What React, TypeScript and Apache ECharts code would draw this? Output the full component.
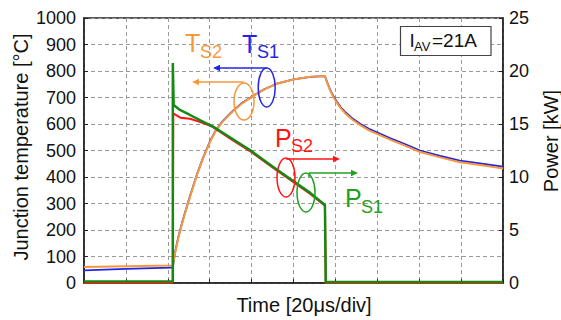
import React, { useEffect, useRef } from "react";
import * as echarts from "echarts";

// Junction temperature Ts2 (orange) and Ts1 (blue), time in divisions
const timeTs2 = [0, 1, 2.1, 2.12, 2.17, 2.25, 2.35, 2.5, 2.7, 2.84, 3.0, 3.13, 3.29, 3.5, 3.75, 4.03, 4.3, 4.6, 5.0, 5.4, 5.75, 5.81, 5.87, 5.95, 6.04, 6.13, 6.23, 6.4, 6.59, 6.8, 7.06, 7.3, 7.54, 7.8, 8.02, 8.5, 8.97, 9.5, 10];
const valsTs2 = [60, 63, 66, 66, 110, 170, 230, 310, 410, 470, 530, 570, 605, 640, 675, 705, 730, 752, 768, 778, 781, 752, 728, 702, 679, 659, 641, 617, 596, 576, 558, 541, 526, 509, 494, 474, 456, 444, 432];
const timeTs1 = [0, 1, 2.1, 2.12, 2.17, 2.25, 2.35, 2.5, 2.7, 2.84, 3.0, 3.13, 3.29, 3.5, 3.75, 4.03, 4.3, 4.6, 5.0, 5.4, 5.75, 5.81, 5.87, 5.95, 6.04, 6.13, 6.23, 6.4, 6.59, 6.8, 7.06, 7.3, 7.54, 7.8, 8.02, 8.5, 8.97, 9.5, 10];
const valsTs1 = [48, 53, 58, 58, 113, 173, 233, 313, 412, 472, 532, 572, 607, 642, 677, 706, 731, 752, 768, 778, 781, 755, 731, 706, 683, 663, 646, 622, 601, 582, 564, 547, 532, 515, 500, 480, 462, 450, 439];

// Power Ps1 (green) and Ps2 (red), kW
const timePs1 = [0, 2.12, 2.12, 2.14, 2.2, 2.3, 2.53, 2.8, 3.08, 3.5, 3.96, 4.5, 5.0, 5.4, 5.75, 5.77, 6, 8, 10];
const valsPs1 = [0.15, 0.15, 20.75, 16.8, 16.6, 16.3, 15.85, 15.3, 14.75, 13.7, 12.55, 11.0, 9.6, 8.5, 7.36, 0.1, 0.1, 0.1, 0.1];
const timePs2 = [0, 2.12, 2.13, 2.3, 2.53, 2.76, 3.0, 3.08, 3.5, 3.96, 4.5, 5.0, 5.4, 5.75, 5.77, 10];
const valsPs2 = [0, 0, 16.0, 15.6, 15.5, 15.2, 14.85, 14.7, 13.6, 12.45, 10.9, 9.5, 8.4, 7.3, 0, 0];

const tempTicks = { min: 0, max: 1000, interval: 100 };
const powerTicks = { min: 0, max: 25, interval: 5 };
const timeTicks = { min: 0, max: 10, interval: 1 };

const FONT = "'Liberation Sans', Arial, sans-serif";
const ORANGE = "#F7993A";
const BLUE = "#2424E8";
const RED = "#FF1414";
const GREEN = "#148A14";
const GREEN_L = "#22A022";

const zip = (t: number[], v: number[]) => t.map((x, i) => [x, v[i]]);

export default function App() {
  const ref = useRef<HTMLDivElement>(null);
  useEffect(() => {
    document.body.style.margin = "0";
    const chart = echarts.init(ref.current!, undefined, { renderer: "svg" });
    const txt = (x: number, y: number, text: string, size: number, fill: string, extra: any = {}, rotation = 0) => ({
      type: "text",
      x,
      y,
      rotation,
      z: 100,
      style: { text, fontSize: size, fontFamily: FONT, fill, textAlign: "left", textVerticalAlign: "middle", ...extra },
    });
    const ell = (cx: number, cy: number, rx: number, ry: number, stroke: string) => ({
      type: "ellipse",
      z: 100,
      shape: { cx, cy, rx, ry },
      style: { fill: "none", stroke, lineWidth: 1.5 },
    });
    const line = (x1: number, y1: number, x2: number, y2: number, stroke: string) => ({
      type: "line",
      z: 100,
      shape: { x1, y1, x2, y2 },
      style: { stroke, lineWidth: 1.5 },
    });
    const head = (x: number, y: number, dir: number, fill: string) => ({
      type: "polygon",
      z: 100,
      shape: { points: [[x, y], [x - dir * 7, y - 3.2], [x - dir * 7, y + 3.2]] },
      style: { fill },
    });
    const axisLbl = { fontSize: 18, fontFamily: FONT, color: "#111", formatter: (v: number) => String(v) };
    const split = { show: true, lineStyle: { color: "#9a9a9a", width: 1, type: [4, 3] as any } };
    chart.setOption({
      animation: false,
      grid: { left: 84, top: 18, width: 419, height: 265, show: true, borderColor: "#222", borderWidth: 1.5, backgroundColor: "#fff" },
      xAxis: {
        type: "value",
        ...timeTicks,
        axisLabel: { show: false },
        axisLine: { lineStyle: { color: "#222", width: 1.5 } },
        axisTick: { show: true, inside: true, length: 4, lineStyle: { color: "#222" } },
        splitLine: split,
      },
      yAxis: [
        {
          type: "value",
          ...tempTicks,
          axisLabel: { ...axisLbl, margin: 8 },
          axisLine: { show: true, lineStyle: { color: "#222", width: 1.5 } },
          axisTick: { show: true, inside: true, length: 4, lineStyle: { color: "#222" } },
          splitLine: split,
        },
        {
          type: "value",
          ...powerTicks,
          position: "right",
          axisLabel: { ...axisLbl, margin: 6 },
          axisLine: { show: true, lineStyle: { color: "#222", width: 1.5 } },
          axisTick: { show: true, inside: true, length: 4, lineStyle: { color: "#222" } },
          splitLine: { show: false },
        },
      ],
      series: [
        { type: "line", name: "Ts1", data: zip(timeTs1, valsTs1), showSymbol: false, lineStyle: { color: BLUE, width: 1.8 }, yAxisIndex: 0 },
        { type: "line", name: "Ts2", data: zip(timeTs2, valsTs2), showSymbol: false, lineStyle: { color: ORANGE, width: 2 }, yAxisIndex: 0 },
        { type: "line", name: "Ps2", data: zip(timePs2, valsPs2), showSymbol: false, lineStyle: { color: RED, width: 2 }, yAxisIndex: 1 },
        { type: "line", name: "Ps1", data: zip(timePs1, valsPs1), showSymbol: false, lineStyle: { color: GREEN, width: 2.5 }, yAxisIndex: 1 },
      ],
      graphic: [
        // axis names
        txt(21, 147, "Junction temperature [°C]", 20, "#111", { textAlign: "center" }, Math.PI / 2),
        txt(551, 141, "Power [kW]", 20, "#111", { textAlign: "center" }, Math.PI / 2),
        txt(304, 305, "Time [20μs/div]", 20, "#111", { textAlign: "center" }),
        // annotations
        txt(185, 43, "T", 25, ORANGE),
        txt(200, 52, "S2", 18, ORANGE),
        txt(242, 44, "T", 25, BLUE),
        txt(257, 52, "S1", 18, BLUE),
        txt(275, 137.5, "P", 25, RED),
        txt(291, 146, "S2", 18, RED),
        txt(345, 197.5, "P", 25, GREEN_L),
        txt(361, 206.5, "S1", 18, GREEN_L),
        ell(266.7, 87.5, 8.5, 19.5, BLUE),
        line(215, 68, 266.7, 68, BLUE),
        head(213, 68, -1, BLUE),
        ell(244, 101.5, 10, 18.5, ORANGE),
        line(194, 82, 244, 82, ORANGE),
        head(192, 82, -1, ORANGE),
        ell(286, 177.5, 9, 19.5, RED),
        line(286, 159, 338, 159, RED),
        head(340, 159, 1, RED),
        ell(306, 192.5, 9, 19.5, GREEN_L),
        line(309, 173, 309, 177, GREEN_L),
        line(309, 173, 356, 173, GREEN_L),
        head(358, 173, 1, GREEN_L),
        // I_AV box
        { type: "rect", z: 100, shape: { x: 400.5, y: 26.5, width: 90.5, height: 29 }, style: { fill: "#fff", stroke: "#444", lineWidth: 1.2 } },
        txt(409.5, 40.5, "I", 19, "#111"),
        txt(414, 46, "AV", 13, "#111"),
        txt(432, 40.5, "=21A", 19, "#111"),
      ],
    });
    return () => chart.dispose();
  }, []);
  return <div ref={ref} style={{ width: 561, height: 320 }} />;
}
